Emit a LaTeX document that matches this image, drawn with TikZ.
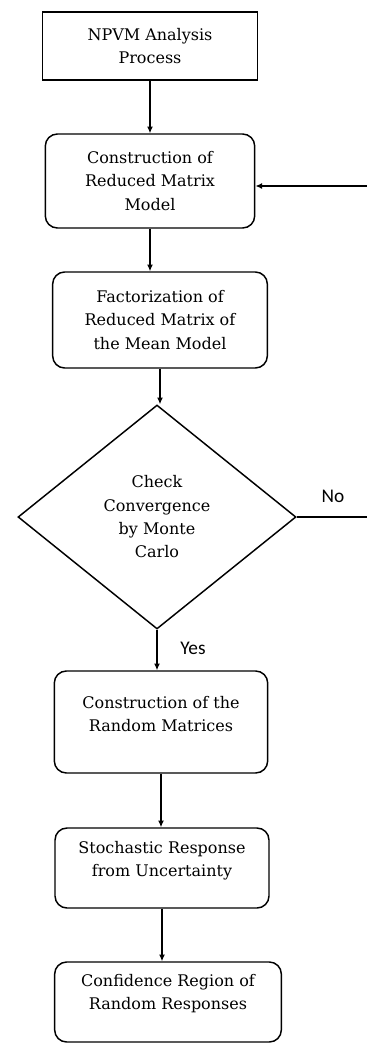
\documentclass[tikz,border=0pt]{standalone}
\usepackage{fontspec}
\setmainfont{DejaVu Serif}
\newfontfamily\labelfont{Carlito}
\usetikzlibrary{shapes.geometric, arrows.meta}
\tikzset{
	,>={Latex[length=5pt,width=4.5pt]}
	,flow/.style={
		,draw
		,line width		= 1.1pt
		,align			= center
		,inner sep		= 0pt
		,font			= \fontsize{12}{17.5}\selectfont
	}
	,startbox/.style = {flow, rectangle}
	,stepbox/.style  = {flow, rectangle, rounded corners = 9pt}
	,checkbox/.style = {flow, diamond, aspect = 1.24}
	,answer/.style   = {font = \labelfont\fontsize{14.5}{14.5}\selectfont}
	,link/.style     = {->, line width = 1.1pt}
}
\begin{document}
\begin{tikzpicture}[x=0.75pt, y=-0.75pt]

	\useasboundingbox (0,0) rectangle (367,1043);

	% the boxes
	\node (start) [startbox, minimum width=161pt, minimum height=51pt] at (150,46)
		{NPVM Analysis\\Process};
	\node (model) [stepbox, minimum width=157pt, minimum height=70.5pt] at (150,181)
		{Construction of\\Reduced Matrix\\Model};
	\node (factor) [stepbox, minimum width=161pt, minimum height=72pt] at (160,320)
		{Factorization of\\Reduced Matrix of\\the Mean Model};
	\node (check) [checkbox, minimum width=208.5pt, minimum height=168pt] at (157,517)
		{Check\\Convergence\\by Monte\\Carlo};
	\node (random) [stepbox, minimum width=160pt, minimum height=76.5pt, text depth=12pt] at (161,722)
		{Construction of the\\Random Matrices};
	\node (response) [stepbox, minimum width=160.5pt, minimum height=60pt, text depth=13.5pt] at (162,868)
		{Stochastic Response\\from Uncertainty};
	\node (region) [stepbox, minimum width=170pt, minimum height=60pt, text depth=15pt] at (168,1002)
		{Confidence Region of\\Random Responses};

	% the loop back
	\coordinate (noend) at (367,517);
	\coordinate (backin) at (367,186);

	% the arrows
	\foreach \a/\b in {start/model, model/factor, factor/check, check/random, random/response, response/region}{
		\draw[link] (\a.south) -- (\a.south |- \b.north);
	}
	\draw[line width=1.1pt] (check.east) -- (noend);
	\draw[link] (backin) -- (model.east |- backin);

	% the answers
	\node (no) [answer] at (333,496) {No};
	\node (yes) [answer] at (193,648) {Yes};
\end{tikzpicture}
\end{document}
